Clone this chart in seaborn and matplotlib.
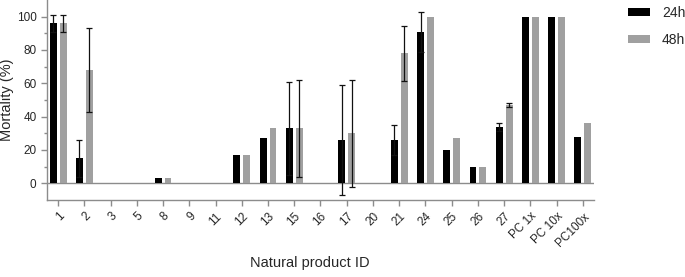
import seaborn as sns
import pandas as pd
import numpy as np
import matplotlib.pyplot as plt
import matplotlib.ticker as mticker
from matplotlib.patches import Patch

# values
products = ["1", "2", "3", "5", "8", "9", "11", "12", "13", "15", "16", "17",
            "20", "21", "24", "25", "26", "27", "PC 1x", "PC 10x", "PC100x"]
mort_24h = [96, 15, 0, 0, 3, 0, 0, 17, 27, 33, 0, 26, 0, 26, 91, 20, 10, 34, 100, 100, 28]
err_24h = [5, 11, 0, 0, 0, 0, 0, 0, 0, 28, 0, 33, 0, 9, 12, 0, 0, 2.5, 0, 0, 0]
mort_48h = [96, 68, 0, 0, 3, 0, 0, 17, 33, 33, 0, 30, 0, 78, 100, 27, 10, 47, 100, 100, 36]
err_48h = [5, 25, 0, 0, 0, 0, 0, 0, 0, 29, 0, 32, 0, 16.5, 0, 0, 0, 1, 0, 0, 0]
times = ["24h", "48h"]

df = pd.DataFrame({
    "product": products * 2,
    "time": [times[0]] * len(products) + [times[1]] * len(products),
    "mortality": mort_24h + mort_48h,
})

sns.set_style("ticks")
plt.rcParams['font.family'] = ['Liberation Sans', 'DejaVu Sans']

colors = {"24h": "#000000", "48h": "#a0a0a0"}
axis_col = "#8c8c8c"
text_col = "#262626"

fig = plt.figure(figsize=(6.85, 2.77), dpi=100)
ax = fig.add_axes([47 / 685, 1 - 200 / 277, 547 / 685, 200 / 277])

sns.barplot(data=df, x="product", y="mortality", hue="time", order=products,
            hue_order=times, palette=colors, width=0.76, gap=0.3,
            errorbar=None, legend=False, edgecolor="none", linewidth=0, ax=ax)

# error bars on top of the seaborn bars
for container, errs in zip(ax.containers, [err_24h, err_48h]):
    for bar, e in zip(container, errs):
        if e > 0:
            ax.errorbar(bar.get_x() + bar.get_width() / 2, bar.get_height(), yerr=e,
                        fmt="none", ecolor="#111111", elinewidth=0.9,
                        capsize=2, capthick=0.9, zorder=5)

ax.axhline(0, color=axis_col, lw=1, zorder=0.5)
ax.set_xlim(-0.42, 20.42)
ax.set_ylim(-10, 110)
ax.yaxis.set_major_locator(mticker.FixedLocator([0, 20, 40, 60, 80, 100]))
ax.yaxis.set_minor_locator(mticker.FixedLocator([10, 30, 50, 70, 90]))

sns.despine(ax=ax)
for s in ["left", "bottom"]:
    ax.spines[s].set_color(axis_col)
    ax.spines[s].set_linewidth(1)
ax.tick_params(axis="both", which="major", length=4, width=1, color=axis_col,
               labelcolor=text_col, labelsize=8.5)
ax.tick_params(axis="y", which="minor", length=2, width=1, color=axis_col)
plt.setp(ax.get_xticklabels(), rotation=45, ha="right", rotation_mode="anchor")

ax.set_xlabel("Natural product ID", fontsize=10.5, color=text_col)
ax.set_ylabel("Mortality (%)", fontsize=10.5, color=text_col)
ax.xaxis.set_label_coords(0.48, -0.28)
ax.yaxis.set_label_coords(-0.06, 0.5)

handles = [Patch(facecolor=colors[t], edgecolor="none", label=t) for t in times]
fig.legend(handles=handles, loc="upper left", bbox_to_anchor=(628 / 685, 1 - 6 / 277),
           frameon=False, fontsize=10, handlelength=1.6, handleheight=0.5,
           labelspacing=0.95, handletextpad=0.85, borderpad=0, borderaxespad=0,
           labelcolor=text_col)

fig.savefig("out.png", dpi=100)
